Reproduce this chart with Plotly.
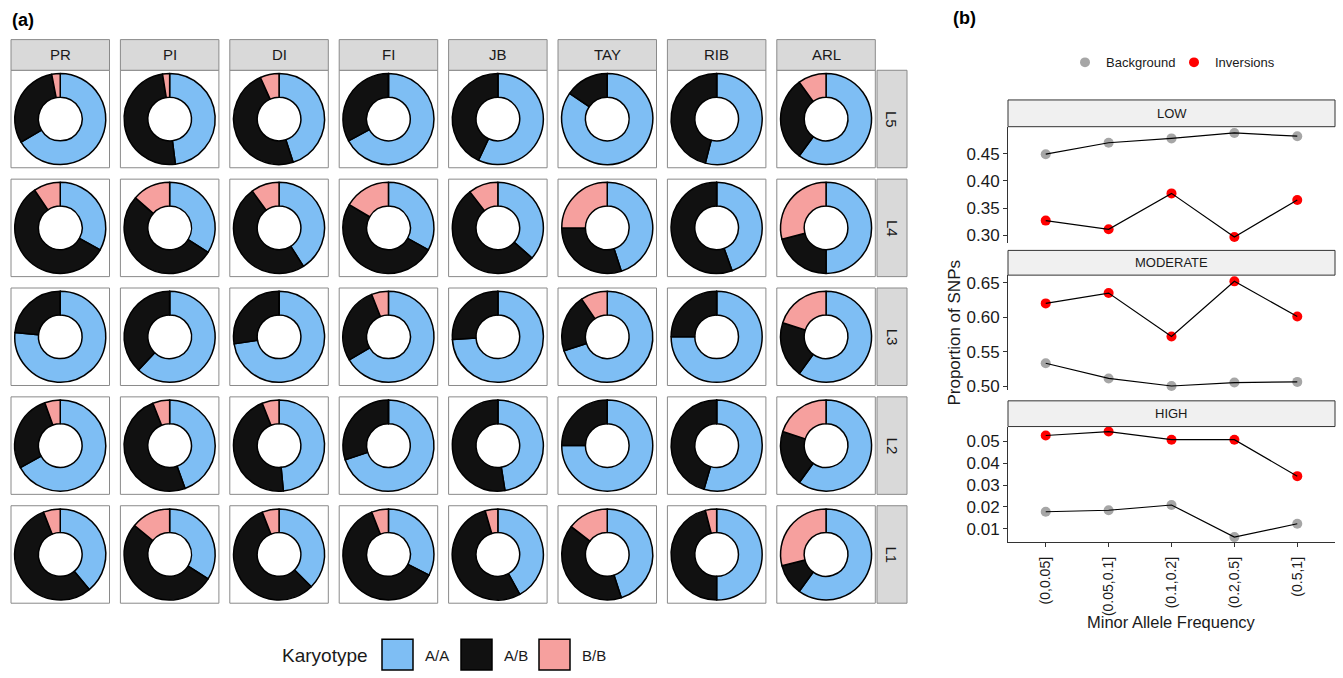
import plotly.graph_objects as go

W, H = 1343, 678

# ---------------- data: karyotype frequencies ----------------
populations = ["PR", "PI", "DI", "FI", "JB", "TAY", "RIB", "ARL"]
lines = ["L5", "L4", "L3", "L2", "L1"]
karyotypes = ["A/A", "A/B", "B/B"]
karyo_colors = ["#7EBEF4", "#111111", "#F6A09E"]

# rows follow `lines`, columns follow `populations`
freq_AA = [
    [0.665, 0.48, 0.45, 0.67, 0.57, 0.845, 0.54, 0.60],
    [0.33, 0.34, 0.41, 0.33, 0.365, 0.45, 0.445, 0.50],
    [0.765, 0.62, 0.725, 0.665, 0.74, 0.70, 0.75, 0.60],
    [0.67, 0.445, 0.485, 0.70, 0.475, 0.75, 0.545, 0.60],
    [0.39, 0.34, 0.375, 0.325, 0.42, 0.45, 0.50, 0.60],
]
freq_AB = [
    [0.305, 0.495, 0.483, 0.33, 0.43, 0.155, 0.46, 0.30],
    [0.575, 0.525, 0.49, 0.505, 0.53, 0.30, 0.555, 0.21],
    [0.235, 0.38, 0.275, 0.275, 0.26, 0.205, 0.25, 0.20],
    [0.275, 0.495, 0.455, 0.30, 0.525, 0.25, 0.455, 0.20],
    [0.55, 0.52, 0.565, 0.615, 0.535, 0.405, 0.46, 0.11],
]
freq_BB = [
    [0.03, 0.025, 0.067, 0.0, 0.0, 0.0, 0.0, 0.10],
    [0.095, 0.135, 0.10, 0.165, 0.105, 0.25, 0.0, 0.29],
    [0.0, 0.0, 0.0, 0.06, 0.0, 0.095, 0.0, 0.20],
    [0.055, 0.06, 0.06, 0.0, 0.0, 0.0, 0.0, 0.20],
    [0.06, 0.14, 0.06, 0.06, 0.045, 0.145, 0.04, 0.29],
]

# ---------------- data: SNP proportions by MAF ----------------
maf_bins = ["(0,0.05]", "(0.05,0.1]", "(0.1,0.2]", "(0.2,0.5]", "(0.5,1]"]
low_background = [0.449, 0.470, 0.478, 0.488, 0.482]
low_inversions = [0.327, 0.311, 0.377, 0.297, 0.365]
moderate_background = [0.533, 0.511, 0.500, 0.505, 0.506]
moderate_inversions = [0.620, 0.635, 0.572, 0.652, 0.601]
high_background = [0.0178, 0.0185, 0.0209, 0.0062, 0.0123]
high_inversions = [0.0527, 0.0545, 0.0508, 0.0508, 0.0341]

FONT = "Liberation Sans, Arial, sans-serif"
TXT = "#1a1a1a"


def fx(px):
    return px / W


def fy(py):
    return 1 - py / H


def label(px, py, text, size, anchor="center", angle=0, color=TXT):
    return dict(x=fx(px), y=fy(py), xref="paper", yref="paper", text=text,
                showarrow=False, xanchor=anchor, yanchor="middle", textangle=angle,
                font=dict(family=FONT, size=size, color=color))


fig = go.Figure()
shapes = []
annotations = []

# ---------------- panel (a): donut grid ----------------
col_x0, col_step, cell_w = 11, 109.4, 98.5
row_y0, row_step, cell_h = 70, 110, 98.5
strip_top = 39
right_strip_x = (877, 907)
donut_r = 46

for j, ln in enumerate(lines):
    top = row_y0 + j * row_step
    for i, pop in enumerate(populations):
        left = col_x0 + i * col_step
        shapes.append(dict(type="rect", xref="paper", yref="paper",
                           x0=fx(left), x1=fx(left + cell_w), y0=fy(top + cell_h), y1=fy(top),
                           line=dict(color="#8a8a8a", width=1), fillcolor="white", layer="below"))
        cx, cy = left + cell_w / 2, top + cell_h / 2
        fig.add_trace(go.Pie(
            labels=karyotypes,
            values=[freq_AA[j][i], freq_AB[j][i], freq_BB[j][i]],
            marker=dict(colors=karyo_colors, line=dict(color="black", width=1.5)),
            hole=0.48, sort=False, direction="clockwise", rotation=0,
            textinfo="none", hoverinfo="label+percent", showlegend=False,
            domain=dict(x=[fx(cx - donut_r), fx(cx + donut_r)],
                        y=[fy(cy + donut_r), fy(cy - donut_r)]),
        ))
    # right-hand strip
    shapes.append(dict(type="rect", xref="paper", yref="paper",
                       x0=fx(right_strip_x[0]), x1=fx(right_strip_x[1]),
                       y0=fy(top + cell_h), y1=fy(top),
                       line=dict(color="#8a8a8a", width=1), fillcolor="#d9d9d9"))
    annotations.append(label(sum(right_strip_x) / 2, top + cell_h / 2, ln, 15, angle=90))

for i, pop in enumerate(populations):
    left = col_x0 + i * col_step
    shapes.append(dict(type="rect", xref="paper", yref="paper",
                       x0=fx(left), x1=fx(left + cell_w), y0=fy(row_y0), y1=fy(strip_top),
                       line=dict(color="#8a8a8a", width=1), fillcolor="#d9d9d9"))
    annotations.append(label(left + cell_w / 2, (strip_top + row_y0) / 2, pop, 15))

# karyotype legend
annotations.append(label(280, 661, "Karyotype", 19, anchor="left"))
key_x = [382, 461, 539]
for k, lab in enumerate(karyotypes):
    shapes.append(dict(type="rect", xref="paper", yref="paper",
                       x0=fx(key_x[k]), x1=fx(key_x[k] + 31), y0=fy(676), y1=fy(645),
                       line=dict(color="black", width=1.5), fillcolor=karyo_colors[k]))
    annotations.append(label(key_x[k] + 41, 661, lab, 15, anchor="left"))

annotations.append(label(10, 19, "<b>(a)</b>", 18, anchor="left", color="black"))
annotations.append(label(951, 17, "<b>(b)</b>", 18, anchor="left", color="black"))

# ---------------- panel (b): faceted line plots ----------------
facets = [
    ("LOW", low_background, low_inversions, (127, 245), [0.285, 0.4995], [0.30, 0.35, 0.40, 0.45], (100, 127)),
    ("MODERATE", moderate_background, moderate_inversions, (277, 393), [0.4943, 0.661], [0.50, 0.55, 0.60, 0.65], (252, 277)),
    ("HIGH", high_background, high_inversions, (430, 547), [0.0038, 0.0568], [0.01, 0.02, 0.03, 0.04, 0.05], (404, 430)),
]
bx0, bx1 = 1008, 1335
layout_axes = {}
for n, (name, bg, inv, (pt, pb), yr, ticks, (st, sb)) in enumerate(facets, start=1):
    xa = "x" if n == 1 else f"x{n}"
    ya = "y" if n == 1 else f"y{n}"
    for vals, col in ((bg, "#a6a6a6"), (inv, "#ff0000")):
        fig.add_trace(go.Scatter(x=maf_bins, y=vals, mode="markers", xaxis=xa, yaxis=ya,
                                 marker=dict(color=col, size=10), showlegend=False, cliponaxis=False))
        fig.add_trace(go.Scatter(x=maf_bins, y=vals, mode="lines", xaxis=xa, yaxis=ya,
                                 line=dict(color="black", width=1.2), showlegend=False,
                                 hoverinfo="skip", cliponaxis=False))
    last = n == len(facets)
    layout_axes["xaxis" if n == 1 else f"xaxis{n}"] = dict(
        domain=[fx(bx0), fx(bx1)], anchor=ya, type="category", range=[-0.6, 4.6],
        showgrid=False, zeroline=False, showline=last, linecolor="#333", linewidth=1,
        ticks="outside" if last else "", ticklen=4, tickcolor="#333",
        showticklabels=last, tickangle=-90, ticklabelstandoff=4,
        tickfont=dict(family=FONT, size=14, color=TXT),
    )
    layout_axes["yaxis" if n == 1 else f"yaxis{n}"] = dict(
        domain=[fy(pb), fy(pt)], anchor=xa, range=yr, tickvals=ticks, tickformat=".2f",
        showgrid=False, zeroline=False, showline=True, linecolor="#333", linewidth=1,
        ticks="outside", ticklen=4, tickcolor="#333",
        tickfont=dict(family=FONT, size=17, color=TXT),
    )
    shapes.append(dict(type="rect", xref="paper", yref="paper",
                       x0=fx(bx0), x1=fx(bx1), y0=fy(sb), y1=fy(st),
                       line=dict(color="#333", width=1), fillcolor="#f0f0f0"))
    annotations.append(label((bx0 + bx1) / 2, (st + sb) / 2, name, 13))

# axis titles
annotations.append(label(955, 335, "Proportion of SNPs", 17, angle=-90))
annotations.append(label(1171, 627, "Minor Allele Frequency", 16.5))

# series legend
for cxp, col, lab in ((1085, "#a6a6a6", "Background"), (1194, "#ff0000", "Inversions")):
    shapes.append(dict(type="circle", xref="paper", yref="paper",
                       x0=fx(cxp - 5), x1=fx(cxp + 5), y0=fy(67), y1=fy(57),
                       line=dict(width=0), fillcolor=col))
    annotations.append(label(cxp + 19, 62, lab, 13, anchor="left"))

fig.update_layout(
    width=W, height=H, autosize=False,
    margin=dict(l=0, r=0, t=0, b=0),
    paper_bgcolor="white", plot_bgcolor="white",
    shapes=shapes, annotations=annotations,
    font=dict(family=FONT, color=TXT),
    **layout_axes,
)

fig.write_html("out.html")
